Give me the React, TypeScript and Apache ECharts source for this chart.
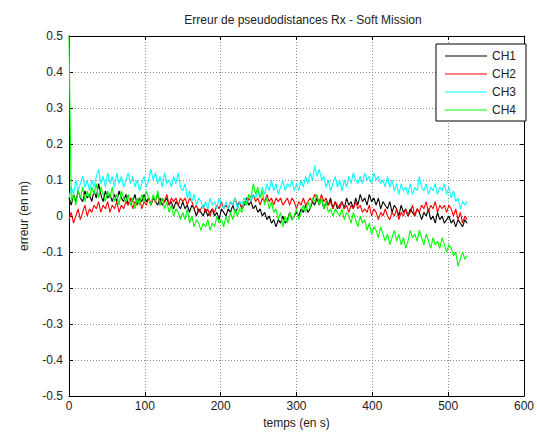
import React, { useEffect, useRef } from "react";
import * as echarts from "echarts";

// Sample times (s), one every 3 s from 0 to 525
const times: number[] = Array.from({ length: 176 }, (_, i) => i * 3);

const channelNames = ["CH1", "CH2", "CH3", "CH4"];
const channelColors = ["#000000", "#ff0000", "#00ffff", "#00ff00"];

// Pseudorange error per channel (m), ten samples (30 s) per row
const ch1: number[] = [
  0.05, 0.03, 0.06, 0.04, 0.07, 0.05, 0.04, 0.07, 0.05, 0.06,
  0.04, 0.07, 0.05, 0.09, 0.06, 0.04, 0.07, 0.05, 0.06, 0.04,
  0.06, 0.04, 0.07, 0.05, 0.04, 0.06, 0.03, 0.05, 0.04, 0.06,
  0.03, 0.05, 0.04, 0.06, 0.04, 0.05, 0.03, 0.05, 0.04, 0.03,
  0.05, 0.03, 0.04, 0.05, 0.03, 0.04, 0.02, 0.04, 0.03, 0.02,
  0.04, 0.02, 0.03, 0.01, 0.03, 0.02, 0.0, 0.02, 0.01, 0.0,
  0.02, 0.0, 0.01, 0.02, 0.0, 0.01, -0.01, 0.02, 0.01, 0.0,
  0.02, 0.01, 0.03, 0.01, 0.02, 0.04, 0.02, 0.03, 0.05, 0.03,
  0.04, 0.02, 0.03, 0.01, 0.02, 0.0, 0.01, -0.01, 0.0, -0.02,
  -0.01, -0.03, -0.01, -0.02, 0.0, -0.02, -0.01, 0.01, -0.01, 0.0,
  0.01, 0.0, 0.02, 0.01, 0.03, 0.01, 0.02, 0.04, 0.03, 0.05,
  0.03, 0.05, 0.02, 0.04, 0.03, 0.05, 0.02, 0.04, 0.02, 0.03,
  0.04, 0.02, 0.05, 0.03, 0.04, 0.02, 0.05, 0.03, 0.06, 0.04,
  0.05, 0.03, 0.06, 0.04, 0.05, 0.03, 0.05, 0.02, 0.04, 0.03,
  0.02, 0.04, 0.01, 0.03, 0.02, 0.0, 0.03, 0.01, 0.02, 0.0,
  0.02, 0.01, 0.0, 0.02, 0.01, -0.01, 0.01, 0.0, 0.02, -0.01,
  0.0, -0.02, 0.01, -0.01, 0.0, -0.02, -0.01, 0.0, -0.02, -0.01,
  -0.03, -0.01, -0.02, -0.03, -0.01, -0.02,
];

const ch2: number[] = [
  -0.01, 0.01, -0.02, 0.0, 0.02, -0.01, 0.01, 0.03, 0.0, 0.02,
  0.01, 0.03, 0.02, 0.04, 0.01, 0.03, 0.02, 0.04, 0.01, 0.03,
  0.02, 0.04, 0.01, 0.03, 0.02, 0.04, 0.03, 0.05, 0.02, 0.04,
  0.03, 0.05, 0.02, 0.04, 0.03, 0.05, 0.03, 0.05, 0.04, 0.06,
  0.03, 0.05, 0.04, 0.06, 0.03, 0.05, 0.04, 0.05, 0.03, 0.05,
  0.04, 0.05, 0.03, 0.05, 0.04, 0.02, 0.03, 0.01, 0.02, 0.03,
  0.01, 0.02, 0.0, 0.02, 0.01, 0.03, 0.02, 0.04, 0.02, 0.03,
  0.02, 0.04, 0.03, 0.05, 0.03, 0.04, 0.02, 0.04, 0.03, 0.05,
  0.04, 0.06, 0.04, 0.05, 0.03, 0.05, 0.04, 0.06, 0.04, 0.05,
  0.03, 0.05, 0.04, 0.05, 0.03, 0.04, 0.05, 0.03, 0.05, 0.04,
  0.02, 0.04, 0.03, 0.05, 0.03, 0.04, 0.05, 0.04, 0.06, 0.05,
  0.04, 0.06, 0.04, 0.05, 0.03, 0.04, 0.02, 0.04, 0.03, 0.02,
  0.04, 0.02, 0.03, 0.01, 0.03, 0.02, 0.04, 0.02, 0.03, 0.01,
  0.02, 0.01, 0.03, 0.0, 0.02, 0.01, -0.01, 0.01, 0.0, 0.02,
  0.0, -0.01, 0.01, 0.0, 0.02, -0.01, 0.01, 0.0, 0.02, 0.0,
  0.01, 0.03, 0.0, 0.02, 0.01, 0.03, 0.02, 0.04, 0.01, 0.03,
  0.02, 0.04, 0.01, 0.03, 0.02, 0.03, 0.01, 0.03, 0.02, 0.0,
  0.02, -0.01, 0.01, -0.02, 0.0, -0.01,
];

const ch3: number[] = [
  0.05, 0.08, 0.06, 0.1, 0.07, 0.09, 0.11, 0.08, 0.1, 0.07,
  0.1, 0.08, 0.11, 0.13, 0.09, 0.11, 0.08, 0.12, 0.09, 0.11,
  0.08, 0.12, 0.09, 0.11, 0.08, 0.1, 0.12, 0.09, 0.11, 0.08,
  0.1, 0.07, 0.09, 0.11, 0.08, 0.1, 0.13, 0.1, 0.12, 0.09,
  0.11, 0.08, 0.12, 0.09, 0.1, 0.08, 0.11, 0.09, 0.12, 0.08,
  0.07, 0.09, 0.05, 0.07, 0.04, 0.06, 0.03, 0.05, 0.04, 0.02,
  0.04, 0.02, 0.05, 0.03, 0.04, 0.02, 0.05, 0.03, 0.02, 0.04,
  0.02, 0.04, 0.03, 0.05, 0.02, 0.04, 0.03, 0.05, 0.04, 0.06,
  0.04, 0.06, 0.05, 0.07, 0.05, 0.08, 0.06, 0.09, 0.07, 0.1,
  0.07, 0.09, 0.06, 0.08, 0.1, 0.07, 0.09, 0.08, 0.1, 0.07,
  0.09, 0.07, 0.1, 0.08, 0.11, 0.09, 0.12, 0.1, 0.14, 0.11,
  0.13, 0.1, 0.11, 0.08, 0.1, 0.07, 0.09, 0.11, 0.08, 0.1,
  0.07, 0.1, 0.08, 0.11, 0.09, 0.12, 0.1, 0.09, 0.11, 0.09,
  0.12, 0.1, 0.11, 0.09, 0.12, 0.1, 0.11, 0.09, 0.1, 0.08,
  0.11, 0.08, 0.1, 0.07, 0.09, 0.06, 0.09, 0.07, 0.08, 0.06,
  0.09, 0.06, 0.08, 0.07, 0.11, 0.08, 0.07, 0.09, 0.06, 0.08,
  0.07, 0.09, 0.06, 0.08, 0.07, 0.09, 0.06, 0.08, 0.05, 0.07,
  0.04, 0.05, 0.02, 0.04, 0.03, 0.04,
];

const ch4: number[] = [
  0.5, 0.04, 0.06, 0.03, 0.07, 0.05, 0.08, 0.04, 0.07, 0.05,
  0.08, 0.06, 0.09, 0.05, 0.08, 0.06, 0.04, 0.07, 0.05, 0.08,
  0.04, 0.06, 0.03, 0.07, 0.05, 0.04, 0.06, 0.03, 0.05, 0.02,
  0.05, 0.03, 0.06, 0.04, 0.07, 0.05, 0.03, 0.06, 0.04, 0.07,
  0.03, 0.05, 0.02, 0.04, 0.01, 0.03, 0.0, 0.02, 0.01, -0.01,
  0.01, -0.01, 0.02, -0.02, 0.0, -0.03, -0.01, -0.02, -0.04, -0.02,
  -0.03, -0.01, -0.04, -0.02, -0.03, 0.0, -0.02, -0.01, -0.03, 0.0,
  -0.02, 0.01, -0.01, 0.02, 0.0, 0.02, 0.01, 0.04, 0.03, 0.06,
  0.05, 0.09, 0.06, 0.08, 0.05, 0.07, 0.03, 0.05, 0.02, 0.04,
  0.01, 0.02, -0.01, 0.01, -0.03, 0.0, -0.02, 0.01, -0.01, 0.0,
  0.02, -0.01, 0.01, 0.03, 0.01, 0.04, 0.02, 0.05, 0.04, 0.06,
  0.03, 0.05, 0.02, 0.04, 0.01, 0.02, 0.0, 0.02, 0.01, 0.0,
  0.02, -0.01, 0.01, 0.0, -0.02, 0.01, -0.01, -0.03, 0.0, -0.02,
  -0.01, -0.04, -0.02, -0.05, -0.03, -0.04, -0.06, -0.03, -0.05, -0.07,
  -0.05, -0.08, -0.06, -0.04, -0.07, -0.05, -0.08, -0.06, -0.09, -0.07,
  -0.04, -0.06, -0.05, -0.07, -0.04, -0.06, -0.08, -0.05, -0.07, -0.09,
  -0.06, -0.08, -0.07, -0.09, -0.06, -0.08, -0.1, -0.08, -0.09, -0.11,
  -0.1, -0.14, -0.12, -0.1, -0.12, -0.11,
];

const channels = [ch1, ch2, ch3, ch4];

const FONT = "'Liberation Sans', Arial, Helvetica, sans-serif";
const TEXT_COLOR = "#222";

export default function App() {
  const ref = useRef<HTMLDivElement>(null);

  useEffect(() => {
    if (!ref.current) return;
    const chart = echarts.init(ref.current, undefined, { renderer: "svg" });

    const tickStyle = { inside: true, length: 4, lineStyle: { color: "#000", width: 1 } };
    const lineStyle = { show: true, onZero: false, lineStyle: { color: "#000", width: 1 } };
    const gridLine = { show: true, lineStyle: { color: "#8a8a8a", type: [1, 2] as number[], width: 1 } };

    chart.setOption({
      animation: false,
      backgroundColor: "#fff",
      textStyle: { fontFamily: FONT },
      title: {
        text: "Erreur de pseudodistances Rx - Soft Mission",
        left: 298,
        textAlign: "center",
        top: 9,
        textStyle: { fontFamily: FONT, fontSize: 12, fontWeight: "normal", color: TEXT_COLOR },
      },
      legend: {
        orient: "vertical",
        right: 11,
        top: 44,
        backgroundColor: "#fff",
        borderColor: "#000",
        borderWidth: 1,
        borderRadius: 0,
        padding: [6, 10, 5, 9],
        itemWidth: 42,
        itemHeight: 14,
        itemGap: 6,
        icon: "path://M0,0H42V1.2H0Z",
        data: channelNames,
        textStyle: { fontFamily: FONT, fontSize: 12, color: TEXT_COLOR },
      },
      grid: { left: 69, right: 10, top: 36, bottom: 38, containLabel: false },
      xAxis: [
        {
          type: "value",
          min: 0,
          max: 600,
          interval: 100,
          position: "bottom",
          name: "temps (en s)",
          nameLocation: "middle",
          nameGap: 20,
          nameTextStyle: { fontFamily: FONT, fontSize: 12, color: TEXT_COLOR },
          axisLine: lineStyle,
          axisTick: tickStyle,
          axisLabel: { fontFamily: FONT, fontSize: 12, color: TEXT_COLOR, margin: 4 },
          splitLine: gridLine,
        },
        {
          type: "value",
          min: 0,
          max: 600,
          interval: 100,
          position: "top",
          axisLine: lineStyle,
          axisTick: tickStyle,
          axisLabel: { show: false },
          splitLine: { show: false },
        },
      ],
      yAxis: [
        {
          type: "value",
          min: -0.5,
          max: 0.5,
          interval: 0.1,
          position: "left",
          name: "erreur (en m)",
          nameLocation: "middle",
          nameGap: 39,
          nameRotate: 90,
          nameTextStyle: { fontFamily: FONT, fontSize: 12, color: TEXT_COLOR },
          axisLine: lineStyle,
          axisTick: tickStyle,
          axisLabel: {
            fontFamily: FONT,
            fontSize: 12,
            color: TEXT_COLOR,
            margin: 6,
            formatter: (v: number) => String(Number(v.toFixed(1))),
          },
          splitLine: gridLine,
        },
        {
          type: "value",
          min: -0.5,
          max: 0.5,
          interval: 0.1,
          position: "right",
          axisLine: lineStyle,
          axisTick: tickStyle,
          axisLabel: { show: false },
          splitLine: { show: false },
        },
      ],
      series: channels.map((values, k) => ({
        name: channelNames[k],
        type: "line",
        xAxisIndex: 0,
        yAxisIndex: 0,
        symbol: "none",
        lineStyle: { color: channelColors[k], width: 1.1 },
        itemStyle: { color: channelColors[k] },
        data: times.map((t, i) => [t, values[i]]),
      })),
    });

    return () => chart.dispose();
  }, []);

  return (
    <div
      ref={ref}
      style={{ position: "absolute", left: 0, top: 0, width: 537, height: 434 }}
    />
  );
}
